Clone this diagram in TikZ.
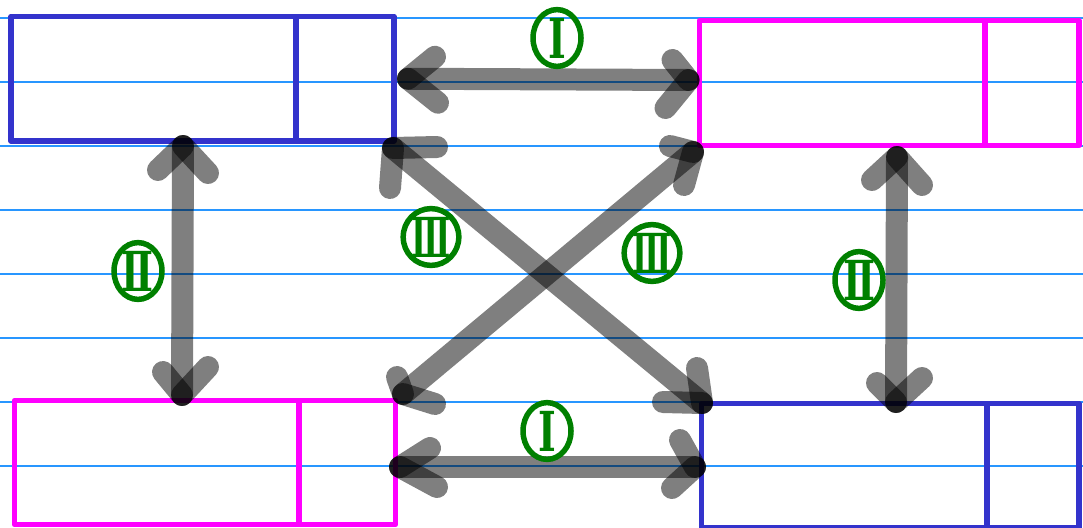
\documentclass[tikz,border=0pt]{standalone}
\usepackage{fontspec}
\usepackage{graphicx}
\newfontfamily\romfont{DejaVu Serif}
\usetikzlibrary{shapes.geometric,calc}
\definecolor{boxblue}{RGB}{51,51,204}
\definecolor{boxmag}{RGB}{255,0,255}
\definecolor{rulecol}{RGB}{40,150,255}
\definecolor{labgreen}{RGB}{0,128,0}
\begin{document}
\begin{tikzpicture}[x=1pt,y=-1pt,
  box/.style={draw, rectangle, line width=5.5pt, inner sep=0pt, outer sep=0pt, line join=round},
  bbox/.style={box, draw=boxblue},
  mbox/.style={box, draw=boxmag},
  stroke/.style={draw=black, draw opacity=0.5, line width=22pt, line cap=round},
  ruled/.style={draw=rulecol, line width=1.3pt},
  lab/.style={ellipse, draw=labgreen, text=labgreen, line width=5.5pt, minimum width=48pt, minimum height=53pt, inner sep=0pt, font=\romfont\bfseries\fontsize{38}{38}\selectfont}]
\useasboundingbox (0,0) rectangle (1083,527);
% ruled paper
\foreach \k in {0,...,7} {
  \draw[ruled] (0,18+64*\k) -- (1083,18+64*\k);
}
% boxes
\node[bbox, minimum width=285pt, minimum height=124.5pt] (tlA) at (153.5,78.75) {};
\node[bbox, minimum width=98pt, minimum height=124.5pt] (tlB) at (345,78.75) {};
\node[mbox, minimum width=285.5pt, minimum height=125pt] (trA) at (842.25,83) {};
\node[mbox, minimum width=94pt, minimum height=125pt] (trB) at (1032,83) {};
\node[mbox, minimum width=284.5pt, minimum height=124pt] (blA) at (156.75,462.5) {};
\node[mbox, minimum width=96.5pt, minimum height=124pt] (blB) at (347.25,462.5) {};
\node[bbox, minimum width=285.5pt, minimum height=124.5pt] (brA) at (844.25,465.75) {};
\node[bbox, minimum width=92pt, minimum height=124.5pt] (brB) at (1033,465.75) {};
% arrow end points
\coordinate (iTa) at ($(tlB.east)+(14,0)$);
\coordinate (iTb) at ($(trA.west)+(-11,-3)$);
\coordinate (iBa) at ($(blB.east)+(4.5,4.5)$);
\coordinate (iBb) at ($(brA.west)+(-6.5,1.25)$);
\coordinate (iiLa) at ($(tlA.south)+(29.5,5)$);
\coordinate (iiLb) at ($(blA.north)+(25.25,-5.5)$);
\coordinate (iiRa) at ($(trA.south)+(54.75,11.5)$);
\coordinate (iiRb) at ($(brA.north)+(51.75,-1.5)$);
\coordinate (iiiAa) at ($(tlB.south east)+(-1,7)$);
\coordinate (iiiAb) at ($(brA.north west)+(0.5,-0.5)$);
\coordinate (iiiBa) at ($(trA.south west)+(-6.5,6.5)$);
\coordinate (iiiBb) at ($(blB.north east)+(7.5,-6.5)$);
% I top
\draw[stroke] (iTa) -- (iTb);
\draw[stroke] (iTa) -- ++(27,-22);
\draw[stroke] (iTa) -- ++(30,24);
\draw[stroke] (iTb) -- ++(-16,-20);
\draw[stroke] (iTb) -- ++(-23,28);
% I bottom
\draw[stroke] (iBa) -- (iBb);
\draw[stroke] (iBa) -- ++(30,-19);
\draw[stroke] (iBa) -- ++(37,20);
\draw[stroke] (iBb) -- ++(-15,-27);
\draw[stroke] (iBb) -- ++(-23,21);
% II left
\draw[stroke] (iiLa) -- (iiLb);
\draw[stroke] (iiLa) -- ++(-25,24);
\draw[stroke] (iiLa) -- ++(25,27);
\draw[stroke] (iiLb) -- ++(-19,-23);
\draw[stroke] (iiLb) -- ++(26,-28);
% II right
\draw[stroke] (iiRa) -- (iiRb);
\draw[stroke] (iiRa) -- ++(-25,23);
\draw[stroke] (iiRa) -- ++(25,28);
\draw[stroke] (iiRb) -- ++(-19,-19);
\draw[stroke] (iiRb) -- ++(26,-24);
% III A
\draw[stroke] (iiiAa) -- (iiiAb);
\draw[stroke] (iiiAa) -- ++(44,-1);
\draw[stroke] (iiiAa) -- ++(-3,40);
\draw[stroke] (iiiAb) -- ++(-5,-35);
\draw[stroke] (iiiAb) -- ++(-39,-1);
% III B
\draw[stroke] (iiiBa) -- (iiiBb);
\draw[stroke] (iiiBa) -- ++(-23,-6);
\draw[stroke] (iiiBa) -- ++(-9,33);
\draw[stroke] (iiiBb) -- ++(-6,-17);
\draw[stroke] (iiiBb) -- ++(32,10);
% labels
\node[lab] (l1a) at (557,38) {\scalebox{1.0}[1.45]{Ⅰ}};
\node[lab] (l1b) at (547,431) {\scalebox{1.0}[1.45]{Ⅰ}};
\node[lab] (l2a) at (138,271) {\scalebox{1.0}[1.45]{Ⅱ}};
\node[lab] (l2b) at (859,280) {\scalebox{1.0}[1.45]{Ⅱ}};
\node[lab] (l3a) at (431,237) {\scalebox{0.85}[1.45]{Ⅲ}};
\node[lab] (l3b) at (652,253) {\scalebox{0.85}[1.45]{Ⅲ}};
\end{tikzpicture}
\end{document}
